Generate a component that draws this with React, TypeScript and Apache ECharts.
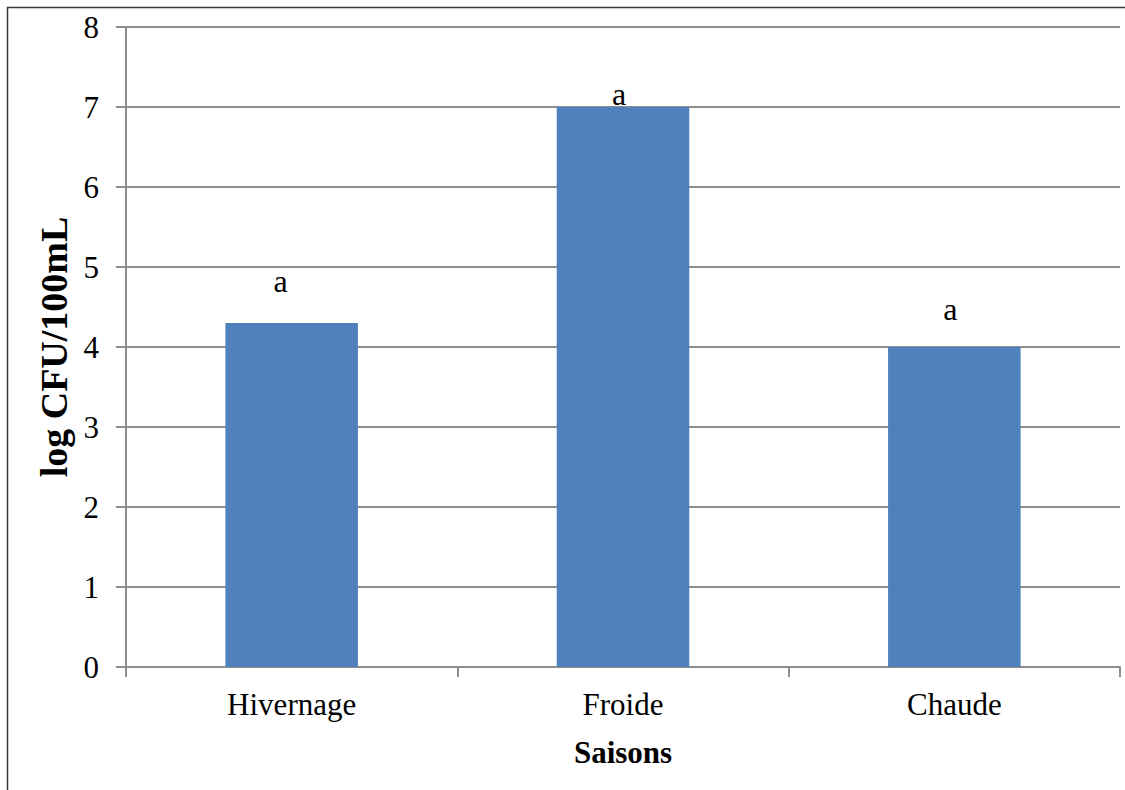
import React, { useEffect, useRef } from "react";
import * as echarts from "echarts";

// Seasons and mean log counts
const seasons = ["Hivernage", "Froide", "Chaude"];
const logCfu = [4.3, 7.0, 4.0];
// Significance letters above each bar
const groupLetters = ["a", "a", "a"];
// Y-axis ticks
const yTicks = [0, 1, 2, 3, 4, 5, 6, 7, 8];

// Letter placement relative to each bar: vertical gap and horizontal shift (px)
const letterGap = [26, -3, 22];
const letterShift = [-11, -4, -4];

const SERIF = "'Liberation Serif', 'Times New Roman', serif";

export default function App() {
  const ref = useRef<HTMLDivElement>(null);

  useEffect(() => {
    if (!ref.current) return;
    const chart = echarts.init(ref.current, undefined, { renderer: "svg" });
    const gridColor = "#8e8e8e";

    chart.setOption({
      animation: false,
      backgroundColor: "#ffffff",
      grid: { left: 126, right: 5, top: 27, bottom: 123, containLabel: false },
      graphic: [
        {
          type: "rect",
          shape: { x: 7.5, y: 7.5, width: 1300, height: 1000 },
          style: { fill: "none", stroke: "#3a3a3a", lineWidth: 1.5 },
          silent: true,
          z: 100,
        },
      ],
      xAxis: {
        type: "category",
        data: seasons,
        boundaryGap: true,
        name: "Saisons",
        nameLocation: "middle",
        nameGap: 70,
        nameTextStyle: { fontFamily: SERIF, fontWeight: "bold", fontSize: 31, color: "#000" },
        axisLine: { show: true, lineStyle: { color: gridColor, width: 2 } },
        axisTick: { show: true, length: 10, alignWithLabel: false, lineStyle: { color: gridColor, width: 2 } },
        axisLabel: { fontFamily: SERIF, fontSize: 31, color: "#000", margin: 22 },
      },
      yAxis: {
        type: "value",
        min: yTicks[0],
        max: yTicks[yTicks.length - 1],
        interval: 1,
        name: "log CFU/100mL",
        nameLocation: "middle",
        nameGap: 52,
        nameRotate: 90,
        nameTextStyle: { fontFamily: SERIF, fontWeight: "bold", fontSize: 38, color: "#000" },
        axisLine: { show: true, lineStyle: { color: gridColor, width: 2 } },
        axisTick: { show: true, length: 10, lineStyle: { color: gridColor, width: 2 } },
        axisLabel: { fontFamily: SERIF, fontSize: 31, color: "#000", margin: 27 },
        splitLine: { show: true, lineStyle: { color: gridColor, width: 2 } },
      },
      series: [
        {
          type: "bar",
          barWidth: "40%",
          data: logCfu.map((v, i) => ({
            value: v,
            label: {
              show: true,
              position: "top",
              distance: letterGap[i],
              offset: [letterShift[i], 0],
              formatter: groupLetters[i],
              fontFamily: SERIF,
              fontSize: 32,
              color: "#000",
            },
          })),
          itemStyle: { color: "#4f81bd" },
        },
      ],
    });

    return () => chart.dispose();
  }, []);

  return (
    <div
      ref={ref}
      style={{ position: "absolute", left: 0, top: 0, width: 1125, height: 790, background: "#fff" }}
    />
  );
}
